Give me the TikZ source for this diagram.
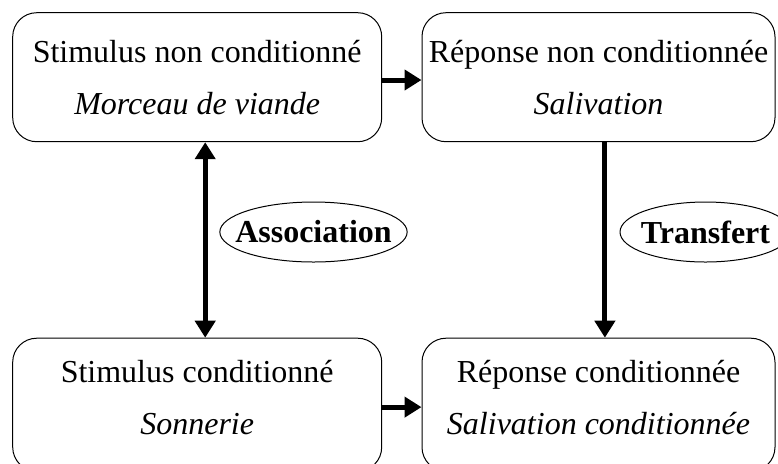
\documentclass[tikz,border=0pt]{standalone}
\usepackage{fontspec}
\setmainfont{Liberation Serif}
\usetikzlibrary{arrows.meta,shapes.geometric}

\begin{document}
\begin{tikzpicture}[x=.5pt,y=-.5pt,>={Triangle[length=8.5pt,width=10pt]}, font=\fontsize{16}{26}\selectfont, line join=round,
	boite/.style={draw, line width=.5pt, rounded corners=12pt, align=center, inner sep=0pt},
	bulle/.style={draw, ellipse, line width=.5pt, inner xsep=-6pt, inner ysep=0pt, minimum height=30pt, font=\fontsize{16}{19}\selectfont\bfseries},
	lien/.style={line width=2.5pt}]
			%Cadre
			\useasboundingbox (0,0) rectangle (778,463);
			\clip (0,0) rectangle (778,463);
			%Boîtes
			\node[boite, minimum width=184.5pt, minimum height=64.5pt] (snc) at (197.2,77.2) {Stimulus non conditionné\\ \textit{Morceau de viande}};
			\node[boite, minimum width=176.5pt, minimum height=64.5pt] (rnc) at (598.5,77.2) {Réponse non conditionnée\\ \textit{Salivation}};
			\node[boite, minimum width=184.5pt, minimum height=66.5pt, text depth=7pt] (sc) at (197.2,404.7) {Stimulus conditionné\\ \textit{Sonnerie}};
			\node[boite, minimum width=176.5pt, minimum height=66.5pt, text depth=7pt] (rc) at (598.5,404.7) {Réponse conditionnée\\ \textit{Salivation conditionnée}};
			%Liens
			\draw[lien,->] ([yshift=-1.4pt]snc.east)--([yshift=-1.4pt]rnc.west);
			\draw[lien,->] ([yshift=-1.2pt]sc.east)--([yshift=-1.2pt]rc.west);
			\draw[lien,<->] ([xshift=4pt]snc.south)--([xshift=4pt]sc.north);
			\draw[lien,->] ([xshift=3.2pt]rnc.south)--([xshift=3.2pt]rc.north);
			%Ellipses
			\node[bulle, minimum width=92.5pt] (asso) at (313.5,232) {Association};
			\node[bulle, minimum width=85.5pt] (trans) at (705.5,232) {Transfert};
		\end{tikzpicture}
\end{document}
